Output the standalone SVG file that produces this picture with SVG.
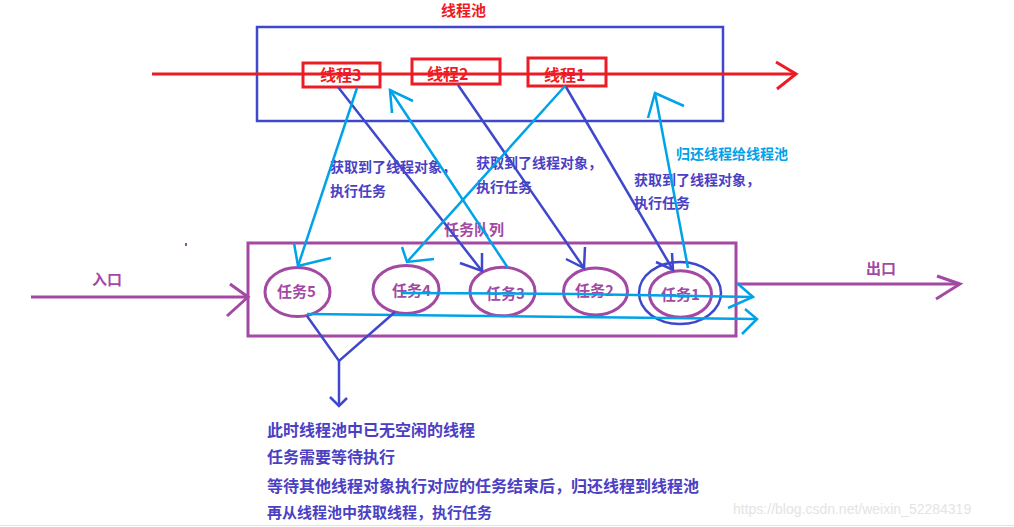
<svg xmlns="http://www.w3.org/2000/svg" width="1014" height="527" viewBox="0 0 1014 527">
<style>
text{font-family:"Noto Sans CJK SC","Microsoft YaHei",sans-serif;font-weight:bold}
.red{stroke:#ed1c24;fill:none;stroke-width:3}
.blue{stroke:#3f48cc;fill:none;stroke-width:2.5}
.cyan{stroke:#00a2e8;fill:none;stroke-width:2.5}
.purple{stroke:#a349a4;fill:none;stroke-width:3}
.tr{fill:#ed1c24;font-size:15px}
.tp{fill:#a349a4;font-size:15px}
.tb{fill:#4b3fc4;font-size:14px}
.tc{fill:#00a2e8;font-size:14px}
.tn{fill:#4b3fc4;font-size:16px}
</style>
<rect width="1014" height="527" fill="#ffffff"/>
<line x1="0" y1="525.5" x2="1014" y2="525.5" stroke="#e2e2e2" stroke-width="1"/>
<text x="733" y="514" style="font-family:'Liberation Sans',Arial,sans-serif;font-weight:normal;font-size:14px" fill="#e4e4e4">https://blog.csdn.net/weixin_52284319</text>
<rect x="185" y="243" width="2" height="3" fill="#a349a4"/>

<g id="pool">
<text class="tr" x="441" y="16">线程池</text>
<rect class="blue" x="257" y="27" width="466" height="94" stroke-width="3"/>
</g>
<g id="thread3">
<rect class="red" x="303" y="63" width="77" height="24"/>
<text class="tr" x="320" y="81" style="font-size:16px">线程3</text>
</g>
<g id="thread2">
<rect class="red" x="412" y="59" width="88" height="25"/>
<text class="tr" x="427" y="80" style="font-size:16px">线程2</text>
</g>
<g id="thread1">
<rect class="red" x="528" y="58" width="78" height="28"/>
<text class="tr" x="544" y="81" style="font-size:16px">线程1</text>
</g>

<g id="queue">
<text class="tp" x="444" y="235">任务队列</text>
<rect class="purple" x="248" y="243" width="488" height="93"/>
</g>
<g id="task5">
<ellipse class="purple" cx="297.5" cy="292" rx="32.5" ry="24.5"/>
<text class="tp" x="277" y="297">任务5</text>
</g>
<g id="task4">
<ellipse class="purple" cx="406" cy="289.5" rx="33" ry="24"/>
<text class="tp" x="392" y="296">任务4</text>
</g>
<g id="task3">
<ellipse class="purple" cx="502.5" cy="291.5" rx="32.5" ry="24.3"/>
<text class="tp" x="486" y="299">任务3</text>
</g>
<g id="task2">
<ellipse class="purple" cx="595.5" cy="291.5" rx="32" ry="23.4"/>
<text class="tp" x="575" y="296">任务2</text>
</g>
<g id="task1">
<ellipse class="blue" cx="680" cy="293" rx="41" ry="31" stroke-width="3"/>
<ellipse class="purple" cx="680.5" cy="294" rx="31" ry="23.3"/>
<text class="tp" x="661" y="300">任务1</text>
</g>

<g id="labels">
<text class="tb" x="330" y="172">获取到了线程对象，</text>
<text class="tb" x="330" y="196">执行任务</text>
<text class="tb" x="476" y="168">获取到了线程对象，</text>
<text class="tb" x="476" y="192">执行任务</text>
<text class="tc" x="676" y="159">归还线程给线程池</text>
<text class="tb" x="634" y="185">获取到了线程对象，</text>
<text class="tb" x="634" y="208">执行任务</text>
<text class="tp" x="92" y="285">入口</text>
<text class="tp" x="866" y="274">出口</text>
<text class="tn" x="267" y="436">此时线程池中已无空闲的线程</text>
<text class="tn" x="267" y="463">任务需要等待执行</text>
<text class="tn" x="267" y="492">等待其他线程对象执行对应的任务结束后，归还线程到线程池</text>
<text class="tn" x="267" y="518" style="font-size:15px">再从线程池中获取线程，执行任务</text>
</g>

<g id="connectors">
<line class="red" x1="152" y1="74" x2="796" y2="74"/>
<polyline class="red" points="776,62 796,74 777,89"/>

<line class="purple" x1="31" y1="297" x2="248" y2="297"/>
<polyline class="purple" points="230,284 248,297 227,316"/>
<line class="purple" x1="736" y1="284" x2="960" y2="284"/>
<polyline class="purple" points="937,276 960,284 936,299"/>

<line class="blue" x1="338" y1="87" x2="482" y2="271"/>
<polyline class="blue" points="460,263 482,271 482,253"/>
<line class="blue" x1="458" y1="85" x2="584" y2="268"/>
<polyline class="blue" points="566,259 584,268 585,247"/>
<line class="blue" x1="566" y1="87" x2="673" y2="270"/>
<polyline class="blue" points="656,262 673,270 672,253"/>

<line class="cyan" x1="565" y1="86" x2="407" y2="262"/>
<polyline class="cyan" points="402,247 407,262 434,259"/>
<line class="cyan" x1="357" y1="88" x2="298" y2="266"/>
<polyline class="cyan" points="294,243 298,266 331,258"/>
<line class="cyan" x1="508" y1="268" x2="390" y2="90"/>
<polyline class="cyan" points="392,113 390,90 413,101"/>
<line class="cyan" x1="688" y1="268" x2="655" y2="93"/>
<polyline class="cyan" points="648,118 655,93 684,106"/>

<polyline class="cyan" points="402,293 577,294 753,297"/>
<polyline class="cyan" points="737,283 753,297 728,308"/>
<polyline class="cyan" points="307,314 757,319"/>
<polyline class="cyan" points="745,309 757,319 742,334"/>

<polyline class="blue" points="307,316 339,361 395,312"/>
<line class="blue" x1="339" y1="361" x2="339" y2="406"/>
<polyline class="blue" points="330,397 339,406 347,398"/>
</g>
</svg>
